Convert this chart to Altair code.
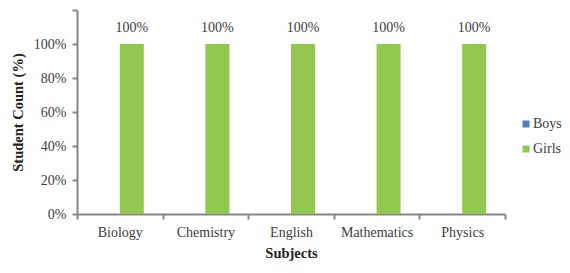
import altair as alt
import pandas as pd

subjects = ["Biology", "Chemistry", "English", "Mathematics", "Physics"]
boys = [0.0, 0.0, 0.0, 0.0, 0.0]
girls = [1.0, 1.0, 1.0, 1.0, 1.0]
series = ["Boys", "Girls"]
colors = ["#4F81BD", "#92C850"]
y_ticks = [0, 0.2, 0.4, 0.6, 0.8, 1.0, 1.2]

rows = []
for s, b, g in zip(subjects, boys, girls):
    rows.append({"Subject": s, "Gender": "Boys", "Value": b})
    rows.append({"Subject": s, "Gender": "Girls", "Value": g})
df = pd.DataFrame(rows)

FONT = "Liberation Serif"
TXT = "#404040"
AX = "#868686"

x = alt.X("Subject:N", sort=subjects, title="Subjects",
          scale=alt.Scale(paddingInner=0, paddingOuter=0),
          axis=alt.Axis(labelAngle=0, tickBand="extent", domainColor=AX, tickColor=AX,
                        domainWidth=2, tickWidth=2, tickSize=5, labelPadding=6,
                        titlePadding=7, labelFontSize=14, titleFontSize=14.5,
                        labelOverlap=False,
                        labelColor=TXT, titleColor="#222222", titleFontWeight="bold"))
xo = alt.XOffset("Gender:N", sort=series,
                 scale=alt.Scale(paddingInner=0, paddingOuter=0.783))
y = alt.Y("Value:Q", title="Student Count (%)",
          scale=alt.Scale(domain=[0, 1.2], nice=False),
          axis=alt.Axis(values=y_ticks, format=".0%",
                        labelExpr="datum.value > 1.1 ? '' : datum.label",
                        labelOverlap=False,
                        grid=False, domainColor=AX, tickColor=AX, domainWidth=2,
                        tickWidth=2, tickSize=5, labelPadding=6, titlePadding=8,
                        labelFontSize=14, titleFontSize=14.5, labelColor=TXT,
                        titleColor="#222222", titleFontWeight="bold"))

base = alt.Chart(df)
bars = base.mark_bar().encode(
    x=x, xOffset=xo, y=y,
    color=alt.Color("Gender:N", sort=series,
                    scale=alt.Scale(domain=series, range=colors),
                    legend=alt.Legend(title=None, orient="none", legendX=442, legendY=107,
                                      symbolType="square", symbolSize=49,
                                      symbolStrokeWidth=0, labelFontSize=14,
                                      labelColor=TXT, rowPadding=11, labelOffset=0,
                                      padding=0)),
)

labels = base.transform_filter(alt.datum.Gender == "Girls").mark_text(
    baseline="bottom", dy=-9, fontSize=14, font=FONT, color=TXT
).encode(
    x=x, xOffset=xo, y=y,
    text=alt.Text("Value:Q", format=".0%"),
)

chart = (bars + labels).properties(
    width=428, height=204,
    autosize=alt.AutoSizeParams(type="none"),
    padding={"left": 69, "top": 2, "right": 57, "bottom": 47},
).configure(font=FONT).configure_axis(labelOverlap=False).configure_view(stroke=None)

chart.save("out.html", embed_options={"renderer": "svg", "actions": False})
